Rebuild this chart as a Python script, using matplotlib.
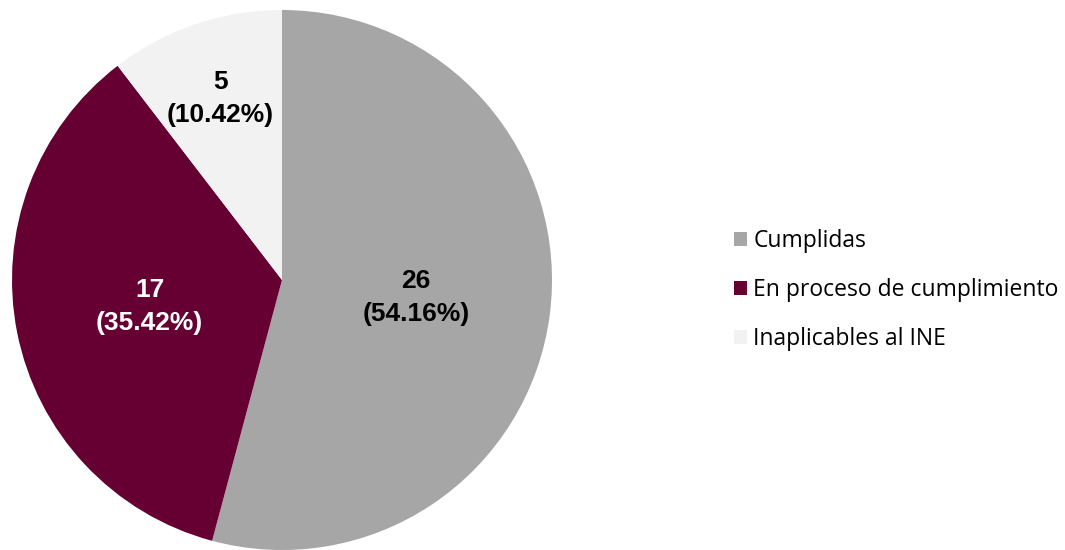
import matplotlib
matplotlib.use("Agg")
import matplotlib.pyplot as plt
import numpy as np

categories = ["Cumplidas", "En proceso de cumplimiento", "Inaplicables al INE"]
values = [26, 17, 5]
pct_labels = ["54.16%", "35.42%", "10.42%"]
colors = ["#A6A6A6", "#660033", "#F2F2F2"]
text_colors = ["black", "white", "black"]
label_dist = [0.5, 0.5, 0.71]

W, H = 1065, 550
fig = plt.figure(figsize=(W / 100, H / 100), dpi=100)
ax = fig.add_axes([12 / W, 0 / H, 540 / W, 540 / H])
wedges, _ = ax.pie(values, colors=colors, startangle=90, counterclock=False,
                   radius=1, wedgeprops=dict(linewidth=0))
ax.set_xlim(-1, 1)
ax.set_ylim(-1, 1)
ax.set_aspect("equal")
ax.axis("off")

for w, v, p, tc, d in zip(wedges, values, pct_labels, text_colors, label_dist):
    ang = np.deg2rad((w.theta1 + w.theta2) / 2)
    ax.text(d * np.cos(ang), d * np.sin(ang), f"{v}\n({p})", ha="center", va="center",
            color=tc, fontsize=19, fontweight="bold", family="Liberation Sans",
            linespacing=1.45)

leg = fig.legend(wedges, categories, loc="center left", bbox_to_anchor=(734 / W, 1 - 290 / H),
                 frameon=False, prop={"family": "Open Sans", "size": 16.5},
                 handlelength=0.55, handleheight=0.55, handletextpad=0.3, labelspacing=1.08,
                 borderaxespad=0, borderpad=0)
fig.savefig("out.png", dpi=100, facecolor="white")
